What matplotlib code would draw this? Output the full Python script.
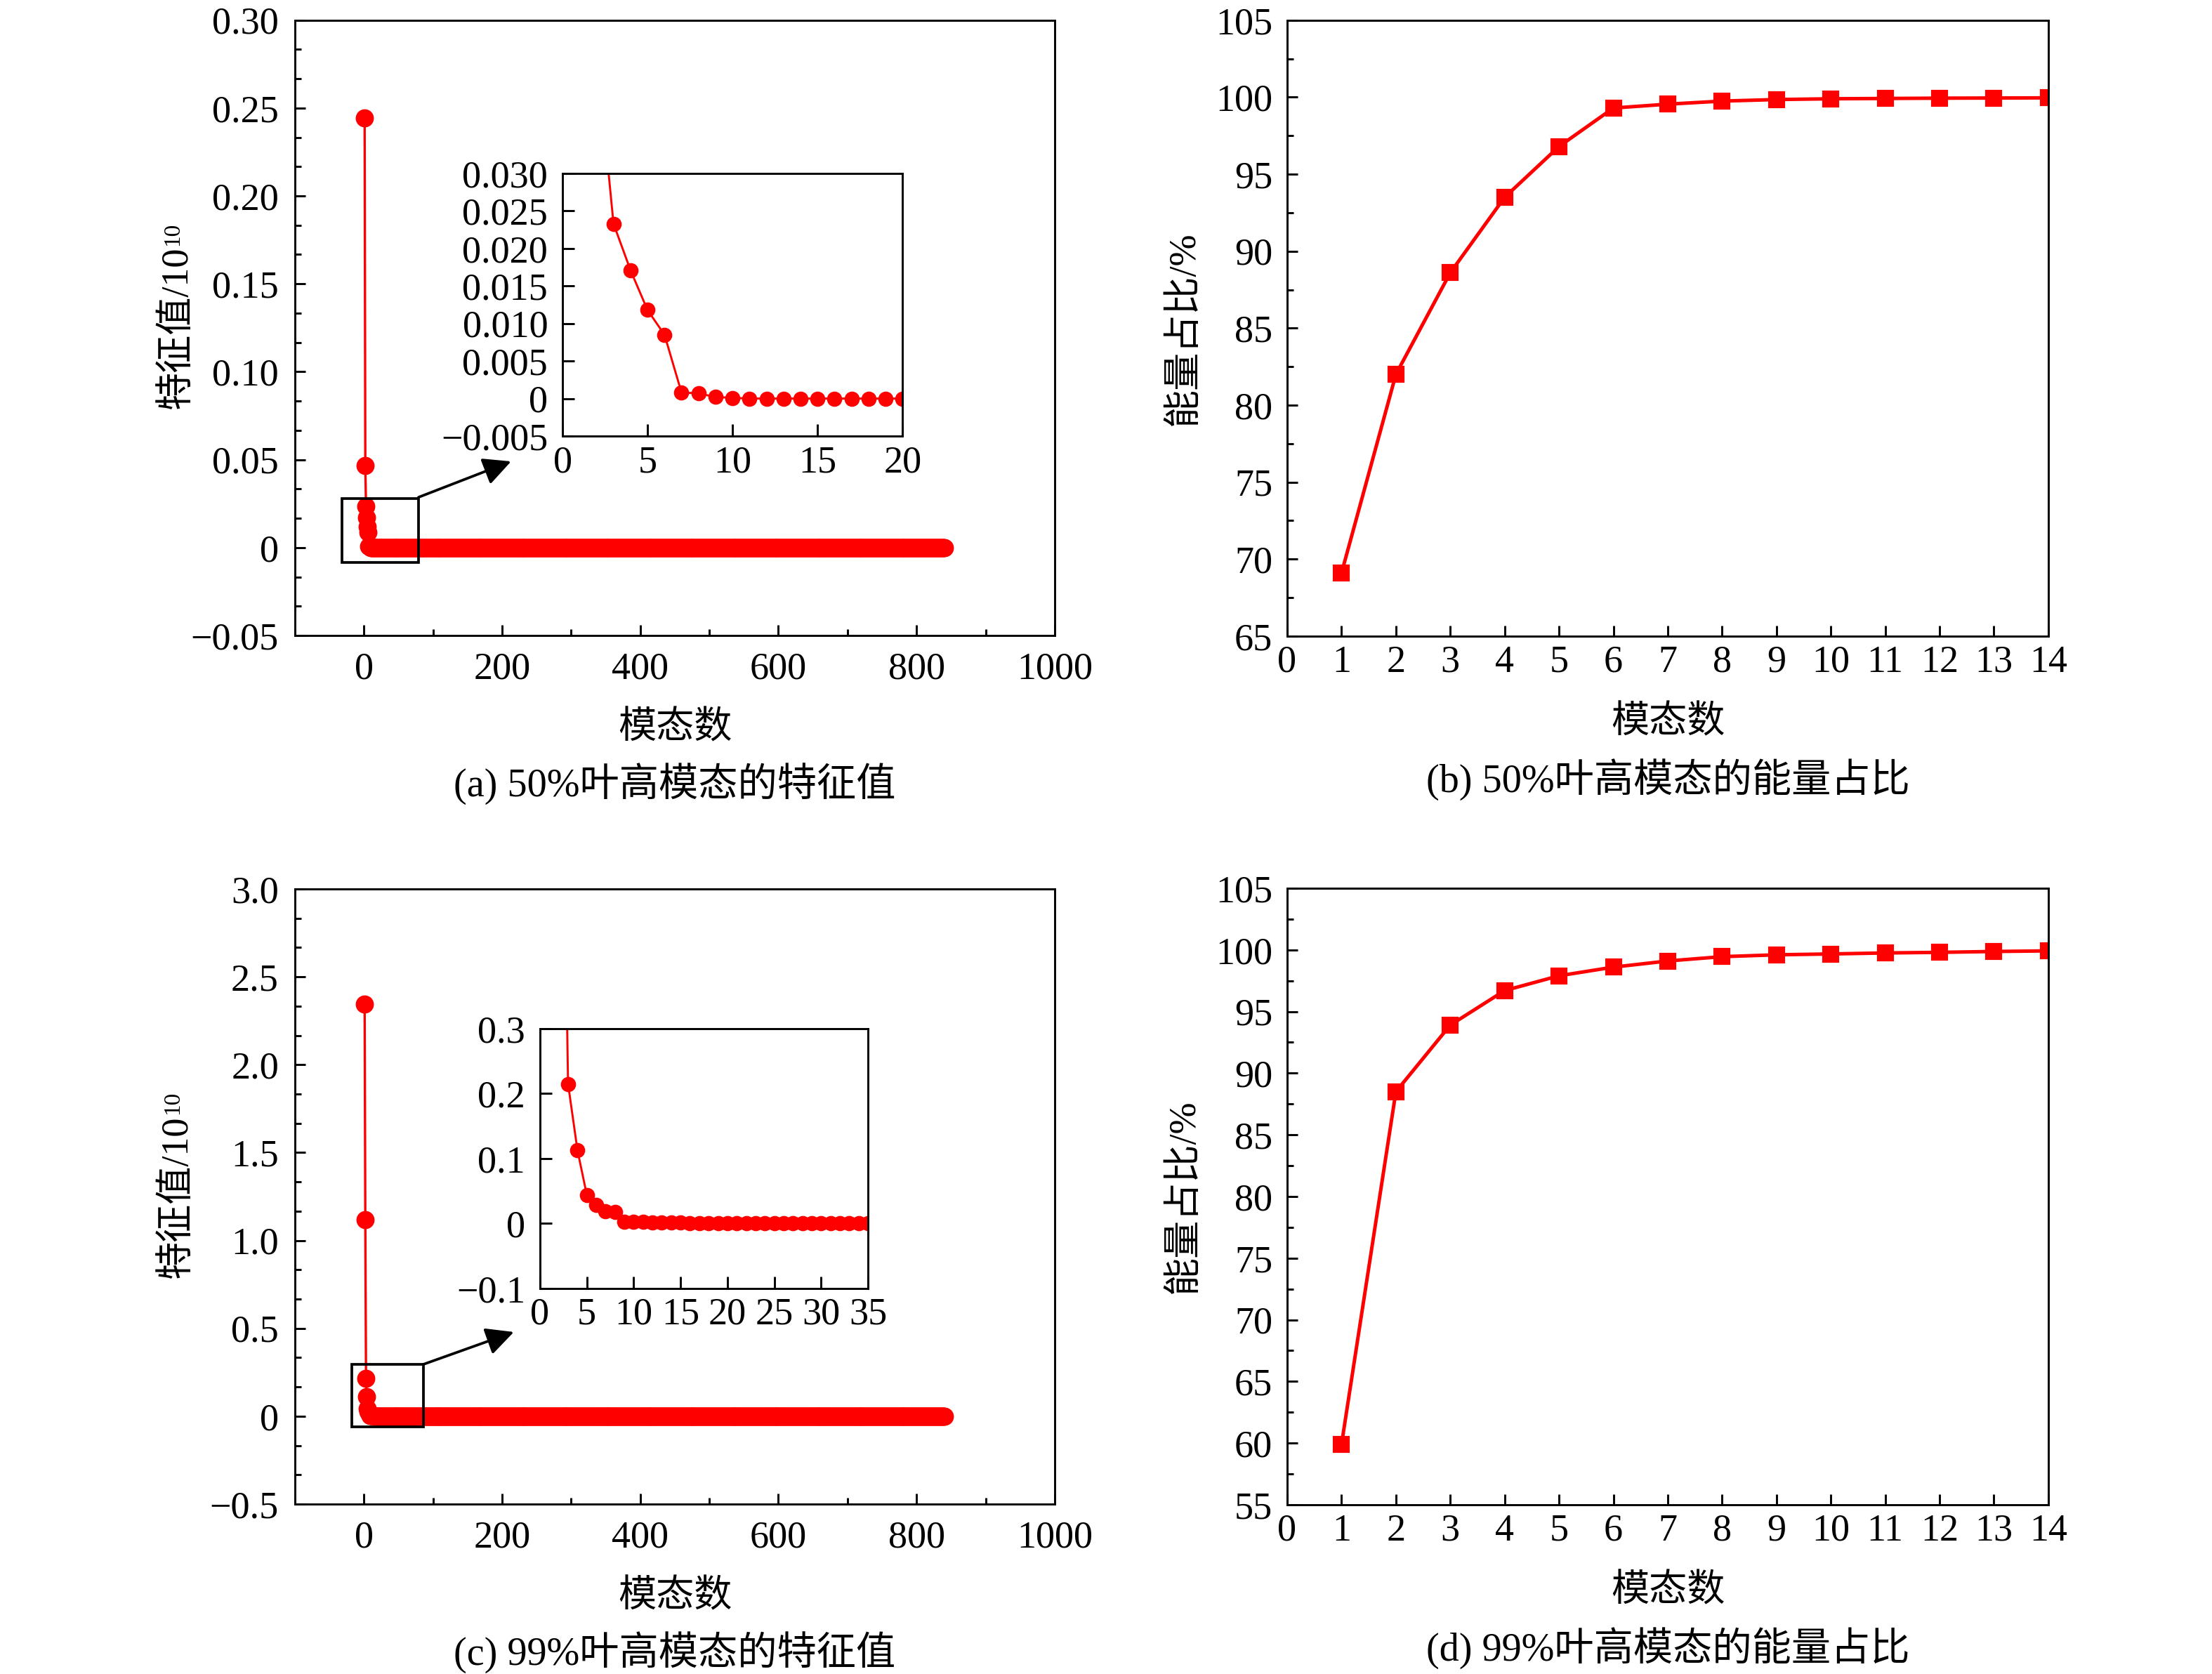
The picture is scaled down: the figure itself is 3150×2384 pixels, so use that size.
import matplotlib
matplotlib.use('Agg')
import matplotlib.pyplot as plt
from matplotlib.ticker import MultipleLocator, AutoMinorLocator, FuncFormatter
from matplotlib.patches import Rectangle
from matplotlib.transforms import IdentityTransform

plt.rcParams['font.family'] = ['Liberation Serif', 'Noto Sans CJK SC']
plt.rcParams['axes.linewidth'] = 0.7

RED = '#ff0000'
n_modes = 840

# 特征值 (x1e10); the tail past the listed values sits at 0
eig_50_head = [0.2444, 0.0466, 0.0233, 0.0171, 0.0118, 0.0085, 0.0008, 0.0007,
               0.0002, 0.0001, 0.0, 0.0, 0.0, 0.0, 0.0, 0.0, 0.0, 0.0, 0.0, 0.0]
eig_99_head = [2.346, 1.119, 0.215, 0.113, 0.044, 0.0285, 0.0187, 0.0177,
               0.003, 0.003, 0.0025, 0.002, 0.002, 0.0015, 0.0015, 0.001,
               0.001, 0.001, 0.001, 0.0005]
modes = list(range(1, n_modes + 1))
eig_50 = eig_50_head + [0.0] * (n_modes - len(eig_50_head))
eig_99 = eig_99_head + [0.0] * (n_modes - len(eig_99_head))

# 能量占比 (%)
mode_no = list(range(1, 15))
energy_50 = [69.1, 82.0, 88.6, 93.5, 96.8, 99.3, 99.55, 99.75, 99.85, 99.9,
             99.92, 99.94, 99.95, 99.96]
energy_99 = [59.9, 88.5, 93.9, 96.7, 97.9, 98.6, 99.1, 99.45, 99.6, 99.67,
             99.75, 99.8, 99.87, 99.92]


def fmt(dec):
    def f(v, p):
        if abs(v) < 1e-12:
            return '0'
        return (('%.' + str(dec) + 'f') % v).replace('-', '\u2212')
    return FuncFormatter(f)


eig_axes = []


def eig_panel(rect, inrect, vals, ylim, ystep, ydec, inxlim, inxstep, inylim,
              inystep, indec, box, arrow, caption):
    ax = fig.add_axes(rect)
    ax.plot(modes, vals, '-o', color=RED, lw=0.8, ms=5.2)
    ax.set_xlim(-100, 1000)
    ax.set_ylim(*ylim)
    ax.xaxis.set_major_locator(MultipleLocator(200))
    ax.xaxis.set_minor_locator(MultipleLocator(100))
    ax.yaxis.set_major_locator(MultipleLocator(ystep))
    ax.yaxis.set_minor_locator(AutoMinorLocator(3))
    ax.yaxis.set_major_formatter(fmt(ydec))
    ax.tick_params(which='both', direction='in', top=False, right=False,
                   width=0.7, labelsize=13)
    ax.tick_params(which='major', length=3.5)
    ax.tick_params(which='minor', length=2.2)
    ax.tick_params(axis='x', pad=5.5)
    ax.tick_params(axis='y', pad=5.5)
    ax.set_xlabel('模态数', fontsize=13)
    ax.xaxis.label.set_va('center')
    ax.xaxis.set_label_coords(0.5, -0.152)
    ax.set_ylabel('特征值/10', fontsize=13)
    ax.yaxis.label.set_va('center')
    ax.yaxis.set_label_coords(-0.155, 0.5)
    ax.add_patch(Rectangle((box[0], box[1]), box[2] - box[0], box[3] - box[1],
                           fill=False, ec='k', lw=0.9, zorder=5))
    ax.annotate('', xy=arrow[1], xytext=arrow[0],
                arrowprops=dict(arrowstyle='-|>', color='k', lw=0.9,
                                mutation_scale=20, shrinkA=0, shrinkB=0))
    fig.text(rect[0] + rect[2] / 2, rect[1] - 0.089, caption, fontsize=13.5,
             ha='center', va='center')
    eig_axes.append(ax)

    axin = fig.add_axes(inrect)
    axin.plot(modes[:40], vals[:40], '-o', color=RED, lw=0.7, ms=4.2)
    axin.set_xlim(*inxlim)
    axin.set_ylim(*inylim)
    axin.xaxis.set_major_locator(MultipleLocator(inxstep))
    axin.yaxis.set_major_locator(MultipleLocator(inystep))
    axin.yaxis.set_major_formatter(fmt(indec))
    axin.tick_params(direction='in', top=False, right=False, width=0.7,
                     length=4, labelsize=13)
    axin.tick_params(axis='x', pad=3)
    axin.tick_params(axis='y', pad=5)


def energy_panel(rect, vals, ylim, caption):
    ax = fig.add_axes(rect)
    ax.plot(mode_no, vals, '-s', color=RED, lw=1.2, ms=4.8)
    ax.set_xlim(0, 14)
    ax.set_ylim(*ylim)
    ax.xaxis.set_major_locator(MultipleLocator(1))
    ax.yaxis.set_major_locator(MultipleLocator(5))
    ax.yaxis.set_minor_locator(AutoMinorLocator(2))
    ax.tick_params(which='both', direction='in', top=False, right=False,
                   width=0.7, labelsize=13)
    ax.tick_params(which='major', length=3.5)
    ax.tick_params(which='minor', length=2.2)
    ax.tick_params(axis='x', pad=3)
    ax.tick_params(axis='y', pad=5)
    ax.set_xlabel('模态数', fontsize=13)
    ax.xaxis.label.set_va('center')
    ax.xaxis.set_label_coords(0.5, -0.142)
    ax.set_ylabel('能量占比/%', fontsize=13)
    ax.yaxis.label.set_va('center')
    ax.yaxis.set_label_coords(-0.135, 0.5)
    fig.text(rect[0] + rect[2] / 2, rect[1] - 0.0855, caption, fontsize=13.5,
             ha='center', va='center')


fig = plt.figure(figsize=(10.5, 2384 / 300), dpi=300)

eig_panel([0.1333, 0.6204, 0.3435, 0.3676], [0.2543, 0.7395, 0.1537, 0.1569],
          eig_50, (-0.05, 0.30), 0.05, 2, (0, 20), 5, (-0.005, 0.030), 0.005, 3,
          (-32, -0.0085, 79, 0.028), ((79, 0.0286), (213, 0.049)),
          '(a) 50%叶高模态的特征值')
energy_panel([0.5819, 0.6200, 0.3441, 0.3679], energy_50, (65, 105),
             '(b) 50%叶高模态的能量占比')
eig_panel([0.1333, 0.1015, 0.3435, 0.3675], [0.2441, 0.2303, 0.1483, 0.1552],
          eig_99, (-0.5, 3.0), 0.5, 1, (0, 35), 5, (-0.1, 0.3), 0.1, 1,
          (-18, -0.06, 86, 0.295), ((86, 0.295), (217, 0.479)),
          '(c) 99%叶高模态的特征值')
energy_panel([0.5819, 0.1011, 0.3441, 0.3683], energy_99, (55, 105),
             '(d) 99%叶高模态的能量占比')

# superscript "10" after the rotated y label (pixel coords, dpi 300)
fig.canvas.draw()
for ax in eig_axes:
    bb = ax.yaxis.label.get_window_extent()
    fig.text(bb.x0 + 4, bb.y1 + 1, '10', fontsize=8, rotation=90,
             ha='left', va='bottom', transform=IdentityTransform())

fig.savefig('out.png', dpi=300)
